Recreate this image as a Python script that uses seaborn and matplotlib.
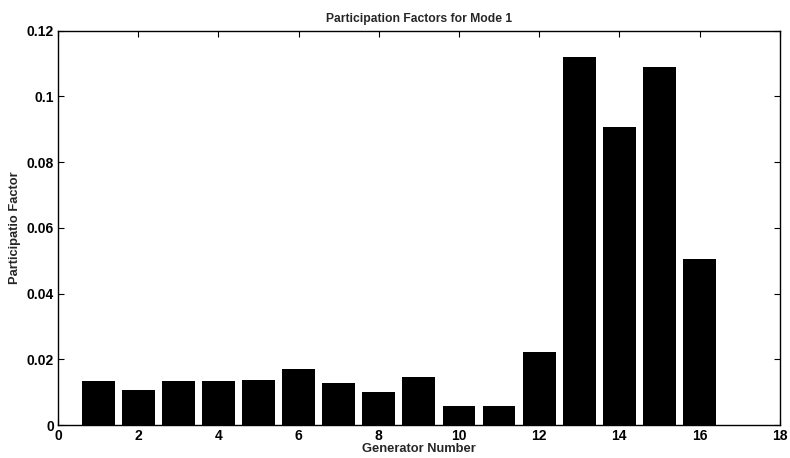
import matplotlib
matplotlib.use("Agg")
import matplotlib.pyplot as plt
import seaborn as sns
import numpy as np

generators = list(range(1, 17))
participation = [0.0133, 0.0106, 0.0133, 0.0135, 0.0138, 0.0170, 0.0127, 0.0101,
                 0.0147, 0.0059, 0.0057, 0.0223, 0.1121, 0.0908, 0.1088, 0.0505]
xticks = [0, 2, 4, 6, 8, 10, 12, 14, 16, 18]
yticks = [0, 0.02, 0.04, 0.06, 0.08, 0.1, 0.12]
ytick_labels = ["0", "0.02", "0.04", "0.06", "0.08", "0.1", "0.12"]

sns.set_style("ticks")
plt.rcParams['font.family'] = ['Liberation Sans', 'DejaVu Sans']

fig = plt.figure(figsize=(7.9, 4.58), dpi=100)
ax = fig.add_axes([0.0734, 0.072, 0.9136, 0.861])

sns.barplot(x=generators, y=participation, native_scale=True, color='black',
            width=0.82, saturation=1, ax=ax, edgecolor='black', linewidth=0)

ax.set_xlim(0, 18)
ax.set_ylim(0, 0.12)
ax.set_xticks(xticks)
ax.set_xticklabels([str(t) for t in xticks], fontsize=10, fontweight='bold')
ax.set_yticks(yticks)
ax.set_yticklabels(ytick_labels, fontsize=10, fontweight='bold')
ax.tick_params(direction='in', length=4, width=0.8, top=True, right=True,
               colors='black', pad=3)
for s in ax.spines.values():
    s.set_visible(True)
    s.set_linewidth(1.0)
    s.set_color('black')

ax.set_title("Participation Factors for Mode 1", fontsize=8.7, fontweight='bold', pad=6)
ax.set_xlabel("Generator Number", fontsize=9.3, fontweight='bold', labelpad=0)
ax.set_ylabel("Participatio Factor", fontsize=9.3, fontweight='bold', labelpad=4)

fig.savefig("out.png", dpi=100)
